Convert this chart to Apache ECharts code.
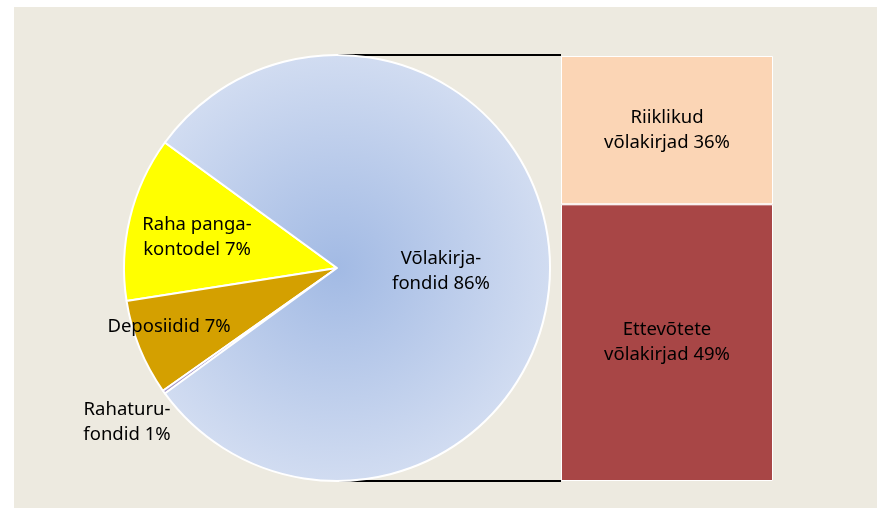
<!DOCTYPE html>
<html>
<head>
<meta charset="utf-8">
<script src="https://cdn.jsdelivr.net/npm/echarts@6/dist/echarts.min.js"></script>
<style>
  html, body { margin: 0; background: #fff; }
  #chart { width: 877px; height: 508px; }
</style>
</head>
<body>
<div id="chart"></div>
<script>
// pie part
var pieNames = ['Raha panga-\nkontodel', 'Deposiidid', 'Rahaturu-\nfondid', 'Võlakirja-\nfondid'];
var pieShares = [7, 7, 1, 86];          // percent shown in labels
var pieArcs = [12.5, 7.3, 0.25, 79.95]; // slice sizes as drawn
// bar part (bottom to top)
var barNames = ['Ettevõtete\nvõlakirjad', 'Riiklikud\nvõlakirjad'];
var barShares = [49, 36];
var barHeights = [65.1, 34.9];

var cx = 337, cy = 268, r = 213;
var gridLeft = 561;
// label centers relative to pie center
var labelSpots = [[-140, -31], [-168, 59], [-210, 154], [104, 3]];

var txt = { fontFamily: 'Noto Sans', fontSize: 18.5, lineHeight: 25, color: '#000' };

var chart = echarts.init(document.getElementById('chart'));
var option = {
  animation: false,
  backgroundColor: '#fff',
  graphic: [
    { type: 'rect', z: 0, shape: { x: 14, y: 7, width: 863, height: 501 }, style: { fill: '#EDEAE0' } },
    { type: 'line', z: 1, shape: { x1: cx, y1: cy - r, x2: gridLeft, y2: cy - r }, style: { stroke: '#000', lineWidth: 2 } },
    { type: 'line', z: 1, shape: { x1: cx, y1: cy + r, x2: gridLeft, y2: cy + r }, style: { stroke: '#000', lineWidth: 2 } }
  ],
  grid: { left: gridLeft, top: 56, width: 212, height: 425 },
  xAxis: { type: 'category', data: [''], show: false },
  yAxis: { type: 'value', min: 0, max: 100, show: false },
  series: [
    {
      type: 'pie',
      center: [cx, cy],
      radius: r,
      startAngle: 143.9,
      clockwise: false,
      emphasis: { disabled: true },
      itemStyle: { borderColor: '#fff', borderWidth: 2 },
      label: Object.assign({
        show: true,
        position: 'inside',
        formatter: function (p) { return pieNames[p.dataIndex] + ' ' + pieShares[p.dataIndex] + '%'; }
      }, txt),
      labelLine: { show: false },
      labelLayout: function (p) {
        var s = labelSpots[p.dataIndex];
        return { x: cx + s[0], y: cy + s[1], align: 'center', verticalAlign: 'middle' };
      },
      data: pieArcs.map(function (v, i) {
        var colors = ['#FFFF00', '#D4A000', '#A99BCB', {
          type: 'radial', x: cx, y: cy, r: r, global: true,
          colorStops: [{ offset: 0, color: '#A2BAE4' }, { offset: 1, color: '#D1DCF1' }]
        }];
        return { value: v, name: pieNames[i], itemStyle: { color: colors[i] } };
      })
    },
    {
      type: 'bar', stack: 'b', barWidth: '100%',
      itemStyle: { color: '#A84646', borderColor: '#fff', borderWidth: 1 },
      label: Object.assign({ show: true, position: 'inside',
        formatter: barNames[0] + ' ' + barShares[0] + '%' }, txt),
      emphasis: { disabled: true },
      data: [barHeights[0]]
    },
    {
      type: 'bar', stack: 'b', barWidth: '100%',
      itemStyle: { color: '#FBD5B5', borderColor: '#fff', borderWidth: 1 },
      label: Object.assign({ show: true, position: 'inside',
        formatter: barNames[1] + ' ' + barShares[1] + '%' }, txt),
      emphasis: { disabled: true },
      data: [barHeights[1]]
    }
  ]
};
chart.setOption(option);
</script>
</body>
</html>
